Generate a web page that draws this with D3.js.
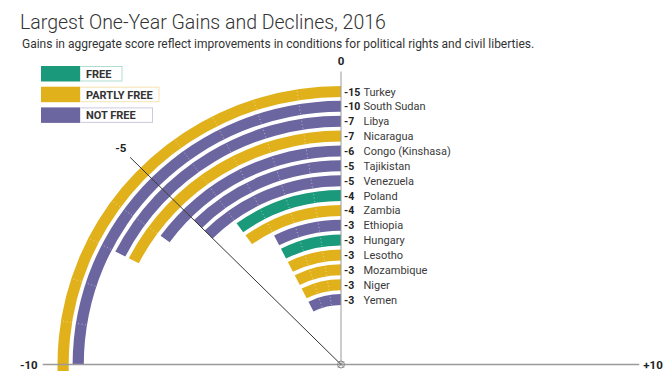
<!DOCTYPE html>
<html><head><meta charset="utf-8">
<script src="https://cdn.jsdelivr.net/npm/d3@7"></script>
<style>
html,body{margin:0;padding:0;background:#fff;}
svg{display:block;}
</style></head>
<body>
<svg id="chart" width="670" height="371"></svg>
<script>
const countries = ["Turkey","South Sudan","Libya","Nicaragua","Congo (Kinshasa)","Tajikistan","Venezuela","Poland","Zambia","Ethiopia","Hungary","Lesotho","Mozambique","Niger","Yemen"];
const values = [-15,-10,-7,-7,-6,-5,-5,-4,-4,-3,-3,-3,-3,-3,-3];
const status = ["PARTLY FREE","NOT FREE","NOT FREE","PARTLY FREE","NOT FREE","NOT FREE","NOT FREE","FREE","PARTLY FREE","NOT FREE","FREE","PARTLY FREE","PARTLY FREE","PARTLY FREE","NOT FREE"];
const legendLabels = ["FREE","PARTLY FREE","NOT FREE"];
const legendColors = ["#1b9a7b","#e1b11c","#6c66a0"];
const tickValues = [-10,-5,0,10];
const tickLabels = ["-10","-5","0","+10"];

const svg = d3.select("#chart");
const cx = 341, cy = 364.5, sx = 1.018;

const color = d3.scaleOrdinal().domain(legendLabels).range(legendColors);
const angle = d3.scaleLinear().domain([-10,10]).range([-Math.PI/2, Math.PI/2]);
const step = 14.86, thick = 11;
const rCenter = d3.scaleLinear().domain([0, countries.length-1]).range([273, 273 - step*(countries.length-1)]);

// Title
svg.append("text").attr("x",20).attr("y",29)
  .attr("font-family","Roboto, sans-serif").attr("font-weight",300)
  .attr("font-size",19.5).attr("fill","#333")
  .text("Largest One-Year Gains and Declines, 2016");
svg.append("text").attr("x",22).attr("y",48)
  .attr("font-family","Roboto, sans-serif").attr("font-weight",400)
  .attr("font-size",12).attr("fill","#333")
  .text("Gains in aggregate score reflect improvements in conditions for political rights and civil liberties.");

const g = svg.append("g").attr("transform",`translate(${cx},${cy}) scale(${sx},1)`);

const arc = d3.arc();
const rows = countries.map((c,i)=>({c, v: values[i], s: status[i], r: rCenter(i)}));

g.selectAll("path.bar").data(rows).enter().append("path")
  .attr("class","bar")
  .attr("d", d => arc({innerRadius: d.r - thick/2, outerRadius: d.r + thick/2, startAngle: angle(d.v), endAngle: 0}))
  .attr("fill", d => color(d.s));

// dotted unit lines inside bars
rows.forEach(d => {
  for (let k = -1; k > d.v; k--) {
    const a = angle(k);
    g.append("line")
      .attr("x1", Math.sin(a)*(d.r - thick/2 + 1)).attr("y1", -Math.cos(a)*(d.r - thick/2 + 1))
      .attr("x2", Math.sin(a)*(d.r + thick/2)).attr("y2", -Math.cos(a)*(d.r + thick/2))
      .attr("stroke","#fff").attr("stroke-opacity",0.5).attr("stroke-width",1)
      .attr("stroke-dasharray","1,2.5")
      .attr("vector-effect","non-scaling-stroke");
  }
});

// axes
const rAxis = 293;
g.append("line").attr("x1", Math.sin(angle(-10))*rAxis).attr("y1",0)
  .attr("x2", Math.sin(angle(10))*rAxis).attr("y2",0)
  .attr("stroke","#9a9a9a").attr("stroke-width",1.5).attr("vector-effect","non-scaling-stroke");
g.append("line").attr("x1",0).attr("y1",0).attr("x2",0).attr("y2",-rAxis)
  .attr("stroke","#9a9a9a").attr("stroke-width",1).attr("vector-effect","non-scaling-stroke");
const a5 = angle(-5);
g.append("line").attr("x1",0).attr("y1",0)
  .attr("x2", Math.sin(a5)*rAxis).attr("y2", -Math.cos(a5)*rAxis)
  .attr("stroke","#333").attr("stroke-width",1).attr("vector-effect","non-scaling-stroke");

// center marker
const cm = svg.append("g").attr("transform",`translate(${cx},${cy})`);
cm.append("circle").attr("r",3.5).attr("fill","none").attr("stroke","#888").attr("stroke-width",1);
cm.append("line").attr("x1",-3).attr("y1",-3).attr("x2",3).attr("y2",3).attr("stroke","#888");
cm.append("line").attr("x1",-3).attr("y1",3).attr("x2",3).attr("y2",-3).attr("stroke","#888");

// tick labels
const tickPos = [
  {x: cx + Math.sin(angle(-10))*rAxis*sx - 5, y: cy + 4, anchor: "end"},
  {x: cx + Math.sin(a5)*(rAxis+13)*sx, y: cy - Math.cos(a5)*(rAxis+13) + 4, anchor: "middle"},
  {x: cx, y: cy - rAxis - 7, anchor: "middle"},
  {x: cx + Math.sin(angle(10))*rAxis*sx + 4, y: cy + 4, anchor: "start"}
];
tickValues.forEach((t,i) => {
  svg.append("text").attr("x", tickPos[i].x).attr("y", tickPos[i].y)
    .attr("text-anchor", tickPos[i].anchor)
    .attr("font-family","Roboto, sans-serif").attr("font-weight",700)
    .attr("font-size",11.5).attr("fill","#222").text(tickLabels[i]);
});

// row labels
rows.forEach(d => {
  const y = cy - d.r + 4;
  svg.append("text").attr("x",344).attr("y",y)
    .attr("font-family","Roboto, sans-serif").attr("font-weight",700)
    .attr("font-size",10.5).attr("fill","#222").text(d.v);
  svg.append("text").attr("x",363.5).attr("y",y)
    .attr("font-family","Roboto, sans-serif").attr("font-weight",400)
    .attr("font-size",11).attr("fill","#3a3a3a").text(d.c);
});

// legend
const legBoxRight = [122, 159, 152.5];
legendLabels.forEach((l,i) => {
  const y = 66 + i*20.7;
  svg.append("rect").attr("x",80).attr("y",y+0.5).attr("width",legBoxRight[i]-80).attr("height",14.5)
    .attr("fill","#fff").attr("stroke",legendColors[i]).attr("stroke-opacity",0.35).attr("stroke-width",1);
  svg.append("rect").attr("x",41).attr("y",y).attr("width",39).attr("height",15.5)
    .attr("fill",legendColors[i]);
  svg.append("text").attr("x",86).attr("y",y+12)
    .attr("font-family","Roboto, sans-serif").attr("font-weight",700)
    .attr("font-size",11).attr("fill","#333").text(l);
});
</script>
</body></html>
